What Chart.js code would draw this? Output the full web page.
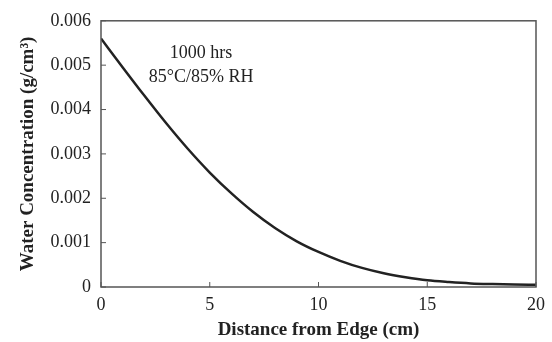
<!DOCTYPE html>
<html>
<head>
<meta charset="utf-8">
<script src="https://cdn.jsdelivr.net/npm/chart.js@4"></script>
<style>
  html, body { margin: 0; padding: 0; background: #fff; }
  #wrap { width: 552px; height: 342px; }
</style>
</head>
<body>
<div id="wrap"><canvas id="chart" width="552" height="342"></canvas></div>
<script>
// Distance from edge (cm) and water concentration (g/cm3)
const distance = [0, 1, 2, 3, 4, 5, 6, 7, 8, 9, 10, 11, 12, 13, 14, 15, 16, 17, 18, 19, 20];
const concentration = [0.0056, 0.00495, 0.00431, 0.00369, 0.00311, 0.00258, 0.00211, 0.00169,
  0.00133, 0.00103, 0.00079, 0.00059, 0.00043, 0.00031, 0.00022, 0.00015, 0.00011, 0.00008,
  0.000065, 0.000055, 0.00005];
const xTicks = [0, 5, 10, 15, 20];
const yTicks = [0, 0.001, 0.002, 0.003, 0.004, 0.005, 0.006];
const noteLines = ['1000 hrs', '85°C/85% RH'];

const serif = "'Liberation Serif', 'DejaVu Serif', serif";
const axisColor = '#555';

// Box around plot + small inward tick marks + annotation text
const framePlugin = {
    id: 'frame',
    afterDraw(chart) {
        const { ctx, chartArea: a, scales: { x, y } } = chart;
        ctx.save();
        ctx.strokeStyle = axisColor;
        ctx.lineWidth = 1.5;
        ctx.strokeRect(a.left, a.top, a.right - a.left, a.bottom - a.top);

        ctx.lineWidth = 1;
        ctx.beginPath();
        xTicks.forEach(v => {
            const px = x.getPixelForValue(v);
            ctx.moveTo(px, a.bottom);
            ctx.lineTo(px, a.bottom - 5);
        });
        yTicks.forEach(v => {
            const py = y.getPixelForValue(v);
            ctx.moveTo(a.left, py);
            ctx.lineTo(a.left + 5, py);
        });
        ctx.stroke();

        // note text
        ctx.fillStyle = '#222';
        ctx.font = '18px ' + serif;
        ctx.textAlign = 'center';
        ctx.textBaseline = 'middle';
        const cx = x.getPixelForValue(4.6);
        ctx.fillText(noteLines[0], cx, y.getPixelForValue(0.00527));
        ctx.fillText(noteLines[1], cx, y.getPixelForValue(0.00472));
        ctx.restore();
    }
};

const ctx = document.getElementById('chart').getContext('2d');
new Chart(ctx, {
    type: 'line',
    data: {
        datasets: [{
            data: distance.map((d, i) => ({ x: d, y: concentration[i] })),
            borderColor: '#222',
            borderWidth: 2.5,
            pointRadius: 0,
            cubicInterpolationMode: 'monotone',
            fill: false
        }]
    },
    options: {
        responsive: false,
        animation: false,
        events: [],
        layout: { padding: { left: 0, right: 15, top: 15, bottom: 0 } },
        plugins: { legend: { display: false }, tooltip: { enabled: false } },
        scales: {
            x: {
                type: 'linear',
                min: 0,
                max: 20,
                afterBuildTicks: s => { s.ticks = xTicks.map(v => ({ value: v })); },
                afterFit: s => { s.height = 55; },
                grid: { display: false, drawTicks: false },
                border: { display: false },
                ticks: {
                    color: '#222',
                    font: { family: serif, size: 18 },
                    padding: 7,
                    maxRotation: 0
                },
                title: {
                    display: true,
                    text: 'Distance from Edge (cm)',
                    color: '#222',
                    font: { family: serif, size: 19, weight: 'bold' },
                    padding: { top: 0, bottom: 1 }
                }
            },
            y: {
                min: 0,
                max: 0.006,
                afterBuildTicks: s => { s.ticks = yTicks.map(v => ({ value: v })); },
                afterFit: s => { s.width = 101; },
                grid: { display: false, drawTicks: false },
                border: { display: false },
                ticks: {
                    color: '#222',
                    font: { family: serif, size: 18 },
                    padding: 10,
                    callback: v => v === 0 ? '0' : v.toFixed(3)
                },
                title: {
                    display: true,
                    text: 'Water Concentration (g/cm³)',
                    color: '#222',
                    font: { family: serif, size: 19, weight: 'bold' },
                    padding: { top: 17, bottom: 0 }
                }
            }
        }
    },
    plugins: [framePlugin]
});
</script>
</body>
</html>
